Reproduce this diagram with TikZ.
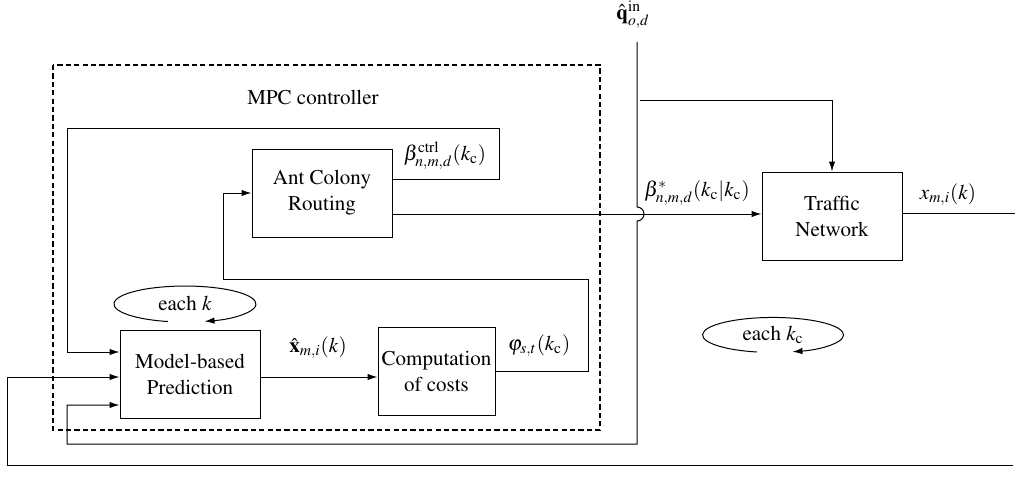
\documentclass[tikz,border=0pt]{standalone}
\usepackage{mathptmx}
\usetikzlibrary{calc,arrows.meta}
\begin{document}
\begin{tikzpicture}[x=0.5pt,y=-0.5pt,
  font=\fontencoding{T1}\fontfamily{ptm}\fontsize{10.5}{13}\selectfont,
  line width=0.5pt,
  blk/.style={draw, rectangle, align=center, minimum height=44pt, inner sep=1pt},
  arr/.style={-{Latex[length=5pt,width=3.2pt]}},
  ctrlbox/.style={draw, line width=1pt, dash pattern=on 2.6pt off 1.6pt},
  lbl/.style={inner sep=0pt}]
\useasboundingbox (0,0) rectangle (1015,492);

% MPC controller frame
\draw[ctrlbox] (53,65) rectangle (600,430);
\node[lbl] (mpc) at (313,97) {MPC controller};

% blocks
\node[blk, minimum width=70pt] (ant) at (322,193) {Ant Colony\\Routing};
\node[blk, minimum width=70pt] (model) at (190,374) {Model-based\\Prediction};
\node[blk, minimum width=58.5pt] (comp) at (436.5,371) {Computation\\of costs};
\node[blk, minimum width=70pt] (traffic) at (832,216) {Traffic\\Network};

% labels
\node[lbl] (lbeta) at (445,156) {$\beta^{\mathrm{ctrl}}_{n,m,d}(k_{\mathrm{c}})$};
\node[lbl] (lphi) at (539,346) {$\varphi_{s,t}(k_{\mathrm{c}})$};
\node[lbl] (lx) at (318,348) {$\hat{\mathbf{x}}_{m,i}(k)$};
\node[lbl] (lq) at (633,15) {$\hat{\mathbf{q}}^{\mathrm{in}}_{o,d}$};
\node[lbl] (lbstar) at (697,193) {$\beta^{*}_{n,m,d}(k_{\mathrm{c}}|k_{\mathrm{c}})$};
\node[lbl] (lxo) at (948,195) {$x_{m,i}(k)$};
\node[lbl] (eachk) at (185,303) {each $k$};
\node[lbl] (eachkc) at (773,335) {each $k_{\mathrm{c}}$};

% cycle ellipses
\draw[arr] (167.8,321.5) arc[start angle=256, end angle=-74, x radius=35.5pt, y radius=9pt];
\draw[arr] (757.2,352) arc[start angle=257, end angle=-74, x radius=35.25pt, y radius=8.75pt];

% connectors
\coordinate (antout) at ($(ant.east)+(0,21)$);
\draw[arr] (antout) -- (antout -| traffic.west);

\draw[arr] ($(ant.east)+(0,-14)$) -- ++(107,0) |- (67,128) |- ($(model.west)+(0,-22)$);

\draw[arr] (comp.east) -- ++(93,0) |- (223,279) |- (ant.west);

\draw[arr] ($(model.east)+(0,3)$) -- ($(model.east -| comp.west)+(0,3)$);

\coordinate (qtop) at (637,42);
\draw[arr] (qtop) -- (637,207) arc[start angle=90, end angle=-90, radius=3.5pt]
  -- (637,444) -- (67,444) |- ($(model.west)+(0,31)$);

\coordinate (qbranch) at (640,100);
\draw[arr] (qbranch) -| (traffic.north);

\coordinate (xout) at (1015,213);
\draw ($(traffic.east)+(0,-3)$) -- (xout);

\coordinate (fbin) at (1013,465);
\draw[arr] (fbin) -- (7,465) |- ($(model.west)+(0,3)$);
\end{tikzpicture}
\end{document}
